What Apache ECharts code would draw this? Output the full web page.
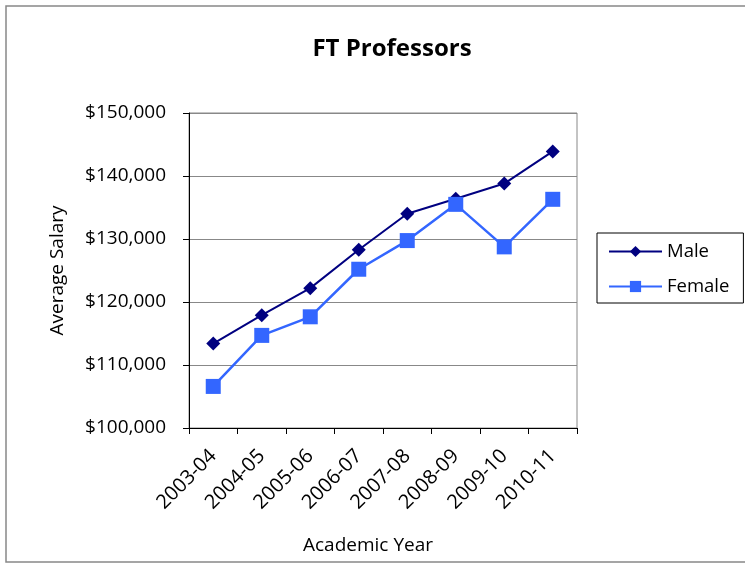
<!DOCTYPE html>
<html>
<head>
<meta charset="utf-8">
<script src="https://cdn.jsdelivr.net/npm/echarts@6/dist/echarts.min.js"></script>
<style>
  html, body { margin: 0; padding: 0; background: #fff; }
  #main { width: 745px; height: 564px; }
</style>
</head>
<body>
<div id="main"></div>
<script>
var years = ['2003-04', '2004-05', '2005-06', '2006-07', '2007-08', '2008-09', '2009-10', '2010-11'];
var maleSalary = [113400, 117900, 122200, 128300, 134000, 136400, 138800, 143900];
var femaleSalary = [106600, 114700, 117650, 125200, 129750, 135500, 128750, 136300];

var FONT = '"Open Sans", "Noto Sans", sans-serif';

var chartDom = document.getElementById('main');
var myChart = echarts.init(chartDom);

var option = {
  animation: false,
  backgroundColor: '#fff',
  title: {
    text: 'FT Professors',
    left: 387,
    top: 32,
    textAlign: 'center',
    textStyle: {
      fontFamily: FONT,
      fontSize: 24,
      fontWeight: 'bold',
      color: '#000',
    },
  },
  legend: {
    orient: 'vertical',
    left: 597,
    top: 233,
    padding: [9, 14, 7, 11],
    itemWidth: 53,
    itemHeight: 14,
    itemGap: 16,
    borderColor: '#000',
    borderWidth: 1,
    textStyle: {
      fontFamily: FONT,
      fontSize: 18.5,
      color: '#000',
    },
    data: ['Male', 'Female'],
  },
  grid: {
    left: 189,
    right: 168,
    top: 113,
    bottom: 136,
    show: true,
    borderColor: '#888',
    borderWidth: 1,
  },
  xAxis: {
    type: 'category',
    data: years,
    boundaryGap: true,
    axisLine: { show: true, lineStyle: { color: '#000', width: 1 } },
    axisTick: { show: true, length: 6, lineStyle: { color: '#000' } },
    axisLabel: {
      rotate: 45,
      margin: 25,
      fontFamily: FONT,
      fontSize: 20,
      color: '#000',
    },
    splitLine: { show: false },
  },
  yAxis: {
    type: 'value',
    min: 100000,
    max: 150000,
    interval: 10000,
    name: 'Average Salary',
    nameLocation: 'middle',
    nameGap: 122,
    nameTextStyle: {
      fontFamily: FONT,
      fontSize: 19,
      color: '#000',
    },
    axisLine: { show: true, lineStyle: { color: '#000', width: 1 } },
    axisTick: { show: true, length: 6, lineStyle: { color: '#000' } },
    axisLabel: {
      margin: 23,
      fontFamily: FONT,
      fontSize: 19,
      color: '#000',
      formatter: function (v) {
        return '$' + v.toLocaleString('en-US');
      },
    },
    splitLine: { show: true, lineStyle: { color: '#888', width: 1 } },
  },
  graphic: [
    {
      type: 'rect',
      shape: { x: 6, y: 6, width: 760, height: 556 },
      style: { fill: 'none', stroke: '#888', lineWidth: 1.5 },
      silent: true,
      z: -1,
    },
    {
      type: 'text',
      style: {
        text: 'Academic Year',
        x: 368,
        y: 546,
        textAlign: 'center',
        textVerticalAlign: 'middle',
        fontFamily: FONT,
        fontSize: 19,
        fill: '#000',
      },
    },
  ],
  series: [
    {
      name: 'Male',
      type: 'line',
      data: maleSalary,
      symbol: 'diamond',
      symbolSize: 14,
      lineStyle: { color: '#000080', width: 2 },
      itemStyle: { color: '#000080' },
      z: 3,
    },
    {
      name: 'Female',
      type: 'line',
      data: femaleSalary,
      symbol: 'rect',
      symbolSize: 15,
      lineStyle: { color: '#3366FF', width: 2.5 },
      itemStyle: { color: '#3366FF' },
      z: 4,
    },
  ],
};

option && myChart.setOption(option);
</script>
</body>
</html>
